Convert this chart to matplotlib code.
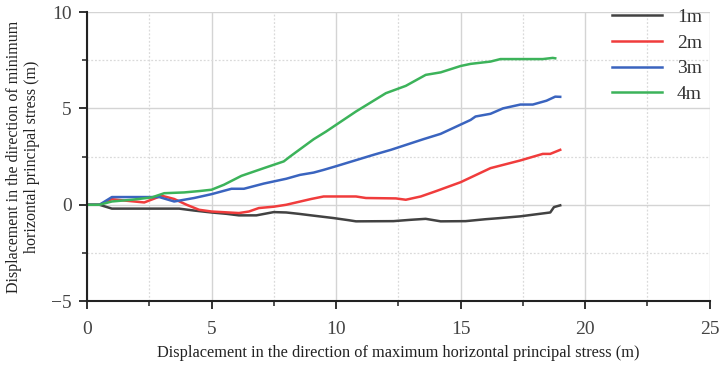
import matplotlib
matplotlib.use("Agg")
import matplotlib.pyplot as plt
from matplotlib.ticker import MultipleLocator

# ---- data ----
x_1m = [0, 0.5, 1.0, 3.7, 4.3, 5.0, 5.6, 6.1, 6.8, 7.5, 8.0, 8.5, 9.0, 9.9, 10.5, 10.8,
        12.3, 13.0, 13.6, 14.2, 15.2, 16.0, 16.5, 17.4, 18.3, 18.6, 18.75, 19.0]
y_1m = [0, 0, -0.2, -0.2, -0.3, -0.4, -0.47, -0.55, -0.55, -0.38, -0.4, -0.47, -0.55, -0.69,
        -0.8, -0.86, -0.85, -0.78, -0.73, -0.86, -0.85, -0.75, -0.7, -0.6, -0.45, -0.4, -0.12, -0.03]

x_2m = [0, 0.5, 1.0, 1.5, 2.3, 3.0, 3.5, 4.0, 4.5, 5.0, 6.1, 6.5, 6.9, 7.5, 8.0, 9.0, 9.5,
        10.8, 11.2, 12.4, 12.8, 13.4, 14.0, 15.0, 16.2, 17.4, 18.3, 18.6, 19.0]
y_2m = [0, 0, 0.29, 0.22, 0.12, 0.47, 0.3, 0.0, -0.26, -0.35, -0.43, -0.35, -0.17, -0.1, 0.0,
        0.3, 0.43, 0.43, 0.35, 0.33, 0.26, 0.43, 0.7, 1.17, 1.9, 2.3, 2.64, 2.64, 2.85]

x_3m = [0, 0.5, 1.0, 2.9, 3.5, 4.3, 5.0, 5.8, 6.3, 7.1, 8.0, 8.55, 9.1, 9.5, 10.0, 11.5,
        12.2, 13.5, 14.2, 15.4, 15.6, 16.2, 16.7, 17.4, 17.9, 18.45, 18.8, 19.0]
y_3m = [0, 0, 0.4, 0.4, 0.17, 0.35, 0.55, 0.83, 0.83, 1.1, 1.35, 1.55, 1.67, 1.81, 2.0, 2.59,
        2.85, 3.4, 3.68, 4.4, 4.58, 4.72, 5.0, 5.2, 5.2, 5.4, 5.61, 5.6]

x_4m = [0, 0.5, 1.0, 1.8, 2.6, 3.1, 3.9, 4.5, 5.0, 5.5, 6.2, 7.1, 7.9, 8.15, 9.1, 9.6, 10.8,
        12.0, 12.8, 13.6, 14.2, 15.0, 15.4, 16.2, 16.6, 18.3, 18.7, 18.8]
y_4m = [0, 0, 0.17, 0.26, 0.38, 0.6, 0.64, 0.71, 0.78, 1.04, 1.5, 1.9, 2.25, 2.5, 3.4, 3.8,
        4.84, 5.79, 6.17, 6.74, 6.87, 7.2, 7.31, 7.43, 7.56, 7.56, 7.62, 7.6]

labels = ["1m", "2m", "3m", "4m"]
colors = ["#424242", "#f03c3c", "#3a64bf", "#3cb35a"]

x_label = "Displacement in the direction of maximum horizontal principal stress (m)"
y_label = "Displacement in the direction of minimum\nhorizontal principal stress (m)"

plt.rcParams["font.family"] = ["Liberation Serif", "DejaVu Serif"]

fig = plt.figure(figsize=(7.19, 3.65), dpi=100)
ax = fig.add_axes([0.121, 0.175, 0.866, 0.792])

for xs, ys, lab, c in zip([x_1m, x_2m, x_3m, x_4m], [y_1m, y_2m, y_3m, y_4m], labels, colors):
    ax.plot(xs, ys, color=c, lw=1.8, label=lab)

ax.set_xlim(0, 25)
ax.set_ylim(-5, 10)
ax.xaxis.set_major_locator(MultipleLocator(5))
ax.xaxis.set_minor_locator(MultipleLocator(2.5))
ax.yaxis.set_major_locator(MultipleLocator(5))
ax.yaxis.set_minor_locator(MultipleLocator(2.5))

ax.grid(which="major", color="#d4d4d4", lw=1.0, ls="-")
ax.grid(which="minor", color="#dadada", lw=0.9, ls=(0, (1.5, 1.5)))
ax.set_axisbelow(True)

for s in ["top", "right"]:
    ax.spines[s].set_visible(False)
for s in ["left", "bottom"]:
    ax.spines[s].set_color("#222222")
    ax.spines[s].set_linewidth(1.5)

ax.tick_params(which="major", length=6, width=1.3, color="#222222", labelsize=14,
               labelcolor="#444444")
ax.tick_params(which="minor", length=3.5, width=1.1, color="#222222")
ax.tick_params(axis="x", which="major", pad=8)
ax.tick_params(axis="y", which="major", pad=5)

ax.set_xlabel(x_label, fontsize=11.8, labelpad=5, color="#222222")
ax.set_ylabel(y_label, fontsize=11.5, labelpad=8, color="#222222")

leg = ax.legend(loc="upper right", frameon=False, fontsize=14, handlelength=2.6,
                borderaxespad=0.0, labelspacing=0.42, handletextpad=0.75,
                bbox_to_anchor=(1.0, 1.04))
for t in leg.get_texts():
    t.set_color("#333333")

fig.savefig("out.png", dpi=100)
